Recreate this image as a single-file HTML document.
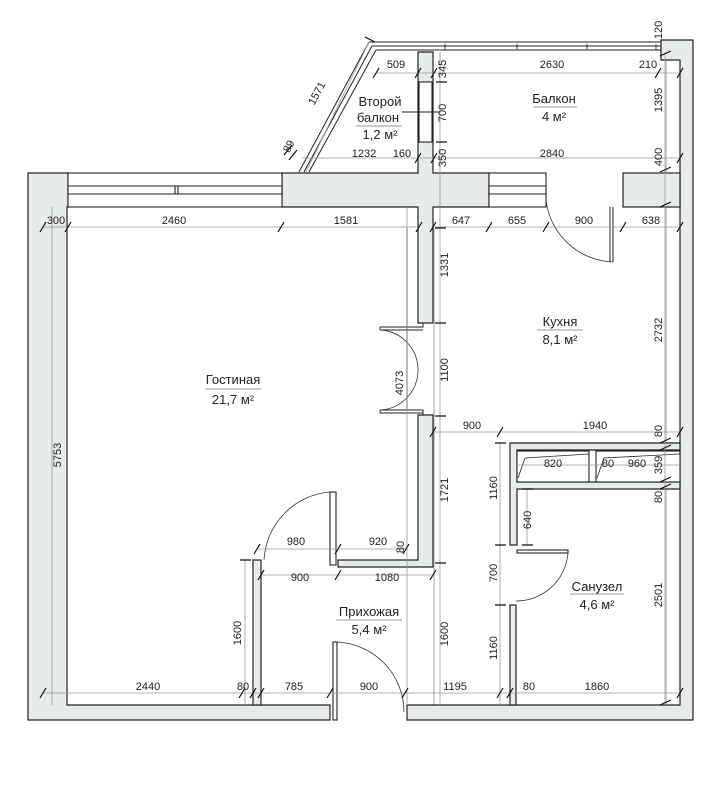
<!DOCTYPE html>
<html><head><meta charset="utf-8"><style>
html,body{margin:0;padding:0;background:#fff;}
svg{display:block}
.w{fill:#e8ebec;stroke:#222;stroke-width:1.2}
.o{fill:#fff;stroke:#222;stroke-width:1.1}
.d{stroke:#999;stroke-width:0.8;fill:none}
.lg{stroke:#cfcfcf;stroke-width:2;fill:none}
.t{stroke:#111;stroke-width:1.2}
text{font-family:"Liberation Sans",sans-serif;fill:#222}
.n{font-size:11px;text-anchor:middle}
.r{font-size:13px;text-anchor:middle}
</style></head><body>
<svg width="722" height="807" viewBox="0 0 722 807">
<!-- light guide lines -->
<path class="lg" d="M63 207V705 M407 228V410 M434 228V705 M666 60V705"/>
<!-- outer walls -->
<path class="w" d="M28 173H68V207H67V705H330V720H28Z"/>
<path class="w" d="M407 705H680V60H661V40H693V720H407Z"/>
<rect class="w" x="623" y="173" width="57" height="34"/>
<path class="w" d="M282 173H418V52H433V173H489V207H433V323H418V207H282Z"/>
<rect class="o" x="419" y="82" width="13" height="60"/>
<!-- windows -->
<rect class="o" x="68" y="173" width="214" height="34"/>
<path class="o" d="M68 186H282V194H68Z M175 186V194 M178 186V194"/>
<rect class="o" x="489" y="173" width="57" height="34"/>
<path class="o" d="M489 186H546V194H489Z"/>
<!-- balcony rail -->
<path fill="none" stroke="#222" stroke-width="1" d="M369 42H661 M372 46H661 M376 50H661 M369 42L299 172 M372 46L304 172 M376 50L309 172 M661 40V52"/>
<path fill="none" stroke="#222" stroke-width="0.8" d="M445 44V50 M517 44V50 M587 44V50 M656 44V50"/>
<!-- interior walls -->
<path class="w" d="M418 415H433V567H338V560H418Z"/>
<rect class="o" x="330" y="492" width="6" height="73"/>
<path class="d" style="stroke:#333" d="M330 492A72 72 0 0 0 264 560"/>
<rect class="w" x="253" y="560" width="8" height="145"/>
<!-- double door living -->
<path fill="none" stroke="#222" stroke-width="1" d="M380 327H423V323 M380 330H423 M380 327V330 M380 410H423V415 M380 413H423 M380 410V413"/>
<path fill="none" stroke="#333" stroke-width="0.8" d="M380 330A40 40 0 0 1 418 370 M380 410A40 40 0 0 0 418 370"/>
<!-- entrance door -->
<rect class="o" x="333" y="642" width="4" height="78"/>
<path fill="none" stroke="#333" stroke-width="0.8" d="M335 642A70 70 0 0 1 404 712"/>
<!-- kitchen door -->
<path fill="none" stroke="#333" stroke-width="0.8" d="M546 200A70 70 0 0 0 613 262 M613 207V262"/>
<path fill="none" stroke="#222" d="M610 207V262 M613 207V262"/>
<!-- bathroom -->
<path class="w" d="M510 443H680V450H517V482H680V489H517V545H510Z"/>
<rect class="o" x="517" y="451" width="72" height="31"/>
<rect class="o" x="596" y="451" width="84" height="31"/>
<path fill="none" stroke="#222" stroke-width="0.8" d="M525 458L589 454 M518 478L525 458 M604 458L680 454 M597 478L604 458"/>
<rect class="o" x="517" y="550" width="51" height="3"/>
<path fill="none" stroke="#333" stroke-width="0.8" d="M568 553A52 52 0 0 1 516 601"/>
<rect class="w" x="510" y="605" width="6" height="100"/>
<!-- dimension lines -->
<path class="d" d="M42 227H419 M433 227H680 M440 52V705 M665 52V705 M42 693H680 M261 575H433 M257 549H406 M433 432H680 M517 465H680 M500 443V705 M527 489V545 M245 560V705 M52 207V705 M376 73H680 M302 158H680 M407 207V705 M306 172L369 42"/>
<!-- ticks -->
<g class="t">
<path d="M40 232L46 222 M65 232L71 222 M278 232L284 222 M416 232L422 222 M430 232L436 222 M486 232L492 222 M543 232L549 222 M620 232L626 222 M677 232L683 222"/>
<path d="M40 698L46 688 M239 698L245 688 M250 698L256 688 M258 698L264 688 M327 698L333 688 M402 698L408 688 M497 698L503 688 M507 698L513 688 M677 698L683 688"/>
<path d="M435 323L446 323 M435 416L446 416 M435 563L446 563 M435 228L446 228"/>
<path d="M660 207L671 202 M660 172L671 167 M660 56L671 51 M660 443L671 438 M660 450L671 445 M660 482L671 477 M660 489L671 484 M660 705L671 700"/>
<path d="M495 443L506 443 M495 545L506 545 M495 605L506 605 M522 489L533 489 M522 545L533 545 M240 560L251 560"/>
<path d="M258 580L264 570 M335 580L341 570 M430 580L436 570 M254 554L260 544 M335 554L341 544 M403 554L409 544 M430 437L436 427 M497 437L503 427 M677 437L683 427"/>
<path d="M373 78L379 68 M415 78L421 68 M431 78L437 68 M655 78L661 68 M677 78L683 68 M415 163L421 153 M431 163L437 153 M677 163L683 153 M436 82L447 82 M436 142L447 142 M365 37L375 42 M284 155L292 145 M289 160L297 150"/>
</g>
<!-- numbers horizontal -->
<g class="n">
<text x="56" y="224">300</text><text x="174" y="224">2460</text><text x="346" y="224">1581</text>
<text x="461" y="224">647</text><text x="517" y="224">655</text><text x="584" y="224">900</text><text x="651" y="224">638</text>
<text x="148" y="690">2440</text><text x="243" y="690">80</text><text x="294" y="690">785</text><text x="369" y="690">900</text><text x="455" y="690">1195</text><text x="529" y="690">80</text><text x="597" y="690">1860</text>
<text x="300" y="581">900</text><text x="387" y="581">1080</text>
<text x="296" y="545">980</text><text x="378" y="545">920</text>
<text x="472" y="429">900</text><text x="595" y="429">1940</text>
<text x="553" y="467">820</text><text x="608" y="467">80</text><text x="637" y="467">960</text>
<text x="396" y="68">509</text><text x="552" y="68">2630</text><text x="648" y="68">210</text>
<text x="364" y="157">1232</text><text x="402" y="157">160</text><text x="552" y="157">2840</text>
</g>
<!-- numbers vertical -->
<g class="n">
<text transform="translate(61,455) rotate(-90)">5753</text>
<text transform="translate(403,383) rotate(-90)">4073</text>
<text transform="translate(448,265) rotate(-90)">1331</text>
<text transform="translate(448,370) rotate(-90)">1100</text>
<text transform="translate(448,490) rotate(-90)">1721</text>
<text transform="translate(448,634) rotate(-90)">1600</text>
<text transform="translate(241,633) rotate(-90)">1600</text>
<text transform="translate(404,547) rotate(-90)">80</text>
<text transform="translate(497,488) rotate(-90)">1160</text>
<text transform="translate(497,573) rotate(-90)">700</text>
<text transform="translate(497,648) rotate(-90)">1160</text>
<text transform="translate(531,520) rotate(-90)">640</text>
<text transform="translate(662,100) rotate(-90)">1395</text>
<text transform="translate(662,157) rotate(-90)">400</text>
<text transform="translate(662,330) rotate(-90)">2732</text>
<text transform="translate(662,431) rotate(-90)">80</text>
<text transform="translate(662,465) rotate(-90)">359</text>
<text transform="translate(662,497) rotate(-90)">80</text>
<text transform="translate(662,595) rotate(-90)">2501</text>
<text transform="translate(662,30) rotate(-90)">120</text>
<text transform="translate(446,69) rotate(-90)">345</text>
<text transform="translate(446,113) rotate(-90)">700</text>
<text transform="translate(446,158) rotate(-90)">350</text>
<text transform="translate(320,95) rotate(-62)">1571</text>
<text transform="translate(292,148) rotate(-62)">89</text>
</g>
<!-- room labels -->
<g class="r">
<text x="380" y="106">Второй</text><text x="378" y="122">балкон</text><text x="380" y="139">1,2 м²</text>
<text x="554" y="103">Балкон</text><text x="554" y="121">4 м²</text>
<text x="560" y="326">Кухня</text><text x="560" y="344">8,1 м²</text>
<text x="233" y="384">Гостиная</text><text x="233" y="404">21,7 м²</text>
<text x="369" y="616">Прихожая</text><text x="369" y="634">5,4 м²</text>
<text x="597" y="591">Санузел</text><text x="597" y="609">4,6 м²</text>
</g>
<path stroke="#999" stroke-width="1" d="M356 126H402 M533 107H577 M537 330H583 M205 389H261 M336 620H402 M570 594H624"/>
<path stroke="#222" stroke-width="1" d="M402 112H440"/>
</svg>
</body></html>
